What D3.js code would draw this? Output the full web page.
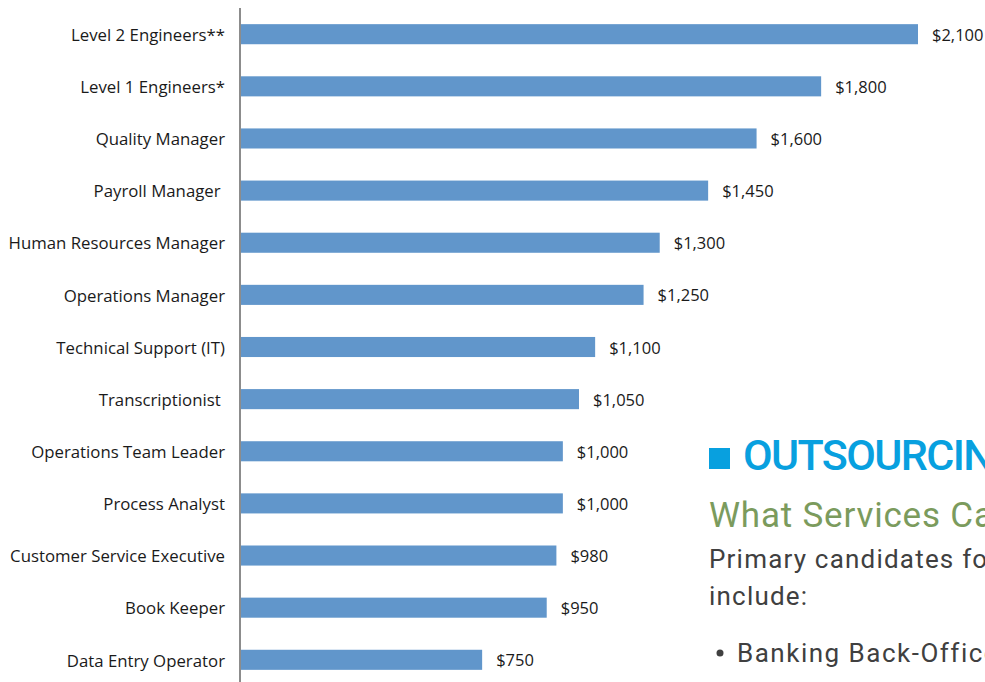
<!DOCTYPE html>
<html>
<head>
<meta charset="utf-8">
<script src="https://cdn.jsdelivr.net/npm/d3@7"></script>
<style>
  html, body { margin: 0; padding: 0; background: #fff; }
  svg { display: block; }
</style>
</head>
<body>
<svg id="chart" width="985" height="682"></svg>
<script>
const roles = [
  "Level 2 Engineers**",
  "Level 1 Engineers*",
  "Quality Manager",
  "Payroll Manager ",
  "Human Resources Manager",
  "Operations Manager",
  "Technical Support (IT)",
  "Transcriptionist ",
  "Operations Team Leader",
  "Process Analyst",
  "Customer Service Executive",
  "Book Keeper",
  "Data Entry Operator"
];
const salaries = [2100, 1800, 1600, 1450, 1300, 1250, 1100, 1050, 1000, 1000, 980, 950, 750];

const sideTitle = "OUTSOURCING";
const sideSub = "What Services Can Be Outsourced?";
const sideBody = ["Primary candidates for outsourcing", "include:"];
const sideBullet = "Banking Back-Office";

const data = roles.map((r, i) => ({ role: r, value: salaries[i] }));

const svg = d3.select("#chart");
const font = "'Open Sans', sans-serif";

const x = d3.scaleLinear()
  .domain([0, 2100])
  .range([240, 918]);

const y = d3.scaleBand()
  .domain(roles)
  .range([8, 686])
  .paddingInner(0.615)
  .paddingOuter(0.31);

// bars
svg.append("g")
  .selectAll("rect")
  .data(data)
  .enter()
  .append("rect")
  .attr("x", x(0))
  .attr("y", d => y(d.role))
  .attr("width", d => x(d.value) - x(0))
  .attr("height", y.bandwidth())
  .attr("fill", "#6196cb");

// value labels
const fmt = d3.format("$,");
svg.append("g")
  .selectAll("text")
  .data(data)
  .enter()
  .append("text")
  .attr("x", d => x(d.value) + 14)
  .attr("y", d => y(d.role) + y.bandwidth() / 2)
  .attr("dy", "0.4em")
  .attr("font-family", font)
  .attr("font-size", "16.5px")
  .attr("fill", "#1a1a1a")
  .text(d => fmt(d.value));

// category axis
const yAxis = svg.append("g")
  .attr("transform", "translate(" + x(0) + ",0)")
  .call(d3.axisLeft(y).tickSize(0).tickPadding(15));
yAxis.select(".domain")
  .attr("d", "M0,8V682")
  .attr("stroke", "#8c8c8c")
  .attr("stroke-width", 2);
yAxis.selectAll("text")
  .attr("dy", "0.4em")
  .attr("font-family", font)
  .attr("font-size", "16.8px")
  .attr("fill", "#1a1a1a")
  .style("white-space", "pre");

// side text block (cut off by the page edge)
const side = svg.append("g").attr("font-family", "Roboto, sans-serif");
side.append("rect")
  .attr("x", 709).attr("y", 448)
  .attr("width", 21).attr("height", 21)
  .attr("fill", "#08a0df");
side.append("text")
  .attr("x", 743).attr("y", 470)
  .attr("font-size", "43px")
  .attr("font-weight", 500)
  .attr("letter-spacing", "-1.6px")
  .attr("fill", "#08a0df")
  .text(sideTitle);
side.append("text")
  .attr("x", 709).attr("y", 527)
  .attr("font-size", "35px")
  .attr("letter-spacing", "0.8px")
  .attr("fill", "#7b9b5d")
  .text(sideSub);
side.selectAll("text.body")
  .data(sideBody)
  .enter()
  .append("text")
  .attr("class", "body")
  .attr("x", 709)
  .attr("y", (d, i) => 568 + i * 37)
  .attr("font-size", "26px")
  .attr("letter-spacing", "1.2px")
  .attr("fill", "#404040")
  .text(d => d);
side.append("circle")
  .attr("cx", 720).attr("cy", 653).attr("r", 3.5)
  .attr("fill", "#404040");
side.append("text")
  .attr("x", 737).attr("y", 662)
  .attr("font-size", "26px")
  .attr("letter-spacing", "1.5px")
  .attr("fill", "#404040")
  .text(sideBullet);
</script>
</body>
</html>
